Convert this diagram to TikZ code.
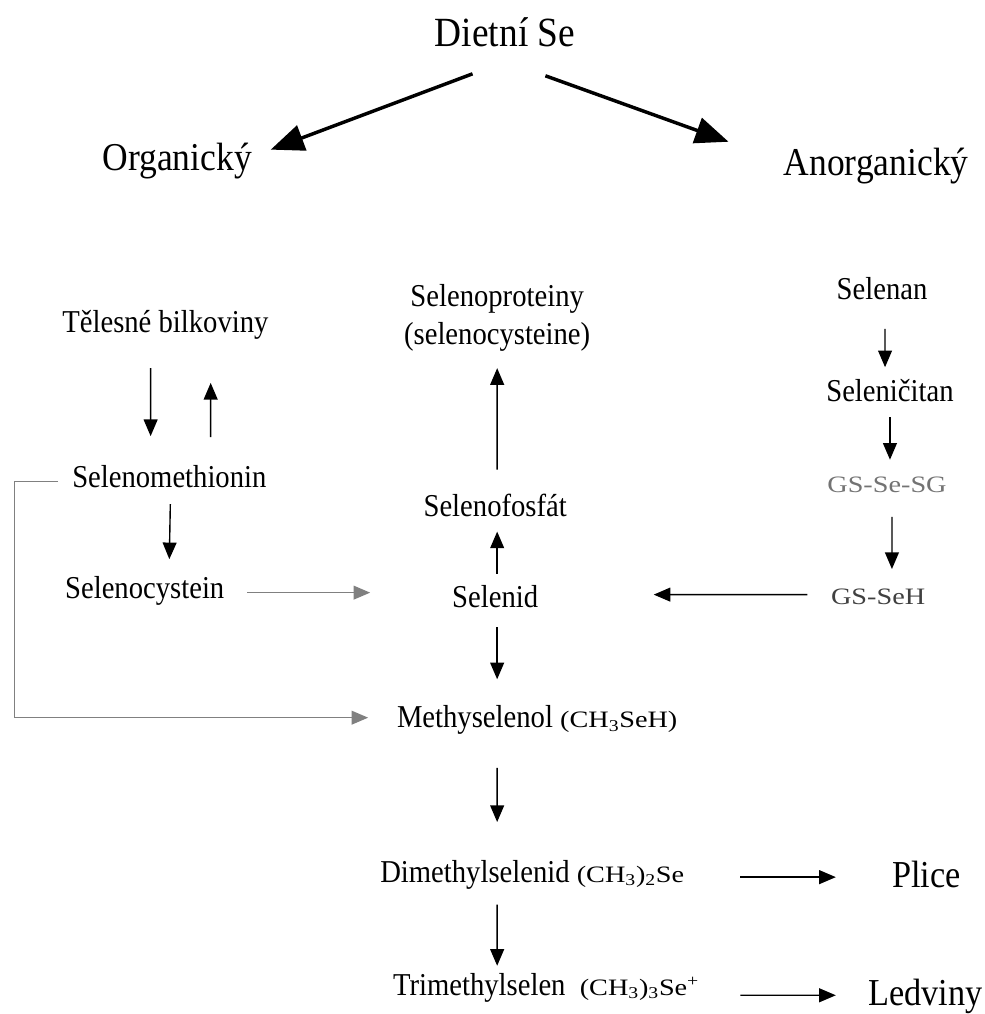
\documentclass[tikz,border=0pt]{standalone}
\usepackage{fontspec}
\setmainfont[FakeStretch=0.9]{Liberation Serif}
\newfontfamily\vzorecfont[FakeStretch=1.2]{Liberation Serif}
\usetikzlibrary{arrows.meta,calc}

\begin{document}
\begin{tikzpicture}[x=25cm, y=25cm,
		txt/.style={inner sep=0pt, anchor=base, font=\fontsize{23}{27}\selectfont},
		bigtxt/.style={txt, font=\fontsize{28.5}{33}\selectfont},
		endtxt/.style={txt, font=\fontsize{27.5}{32}\selectfont},
		gstxt/.style={txt, font=\vzorecfont\fontsize{17}{20}\selectfont},
		arr/.style={-{Triangle[length=12pt, width=10pt]}, line width=1pt},
		grayarr/.style={arr, color=black!50},
		bigarr/.style={-{Triangle[length=24pt, width=19pt]}, line width=2.5pt}]
		\useasboundingbox ( 0, 0 ) rectangle ( 1, 1.030 );
		\newcommand{\vzorec}[1]{{\vzorecfont\fontsize{17}{20}\selectfont #1}}

		% zdroj
		\node [bigtxt, font=\fontsize{30}{35}\selectfont] (diet) at ( 0.513, 0.983 ) {Dietní Se};
		\node [bigtxt] (org) at ( 0.180, 0.857 ) {Organický};
		\node [bigtxt] (anorg) at ( 0.890, 0.852 ) {Anorganický};
		\draw [bigarr] ($(diet.base)+( -0.033, -0.028 )$) -- ($(org.base)+( 0.095, 0.021 )$);
		\draw [bigarr] ($(diet.base)+( 0.041, -0.030 )$) -- ($(anorg.base)+( -0.150, 0.034 )$);

		% organická větev
		\node [txt] (telbil) at ( 0.168, 0.692 ) {Tělesné bilkoviny};
		\node [txt] (smet) at ( 0.172, 0.535 ) {Selenomethionin};
		\node [txt] (scys) at ( 0.147, 0.422 ) {Selenocystein};
		\draw [arr] ($(telbil.base)+( -0.015, -0.036 )$) -- ($(smet.base)+( -0.019, 0.052 )$);
		\draw [arr] ($(smet.base)+( 0.042, 0.051 )$) -- ($(telbil.base)+( 0.046, -0.051 )$);
		\draw [arr] ($(smet.base)+( 0.001, -0.017 )$) -- ($(scys.base)+( 0.025, 0.040 )$);

		% střední sloupec
		\node [txt, anchor=center, align=center] (sprot) at ( 0.505, 0.707 ) {Selenoproteiny\\(selenocysteine)};
		\node [txt] (sfos) at ( 0.503, 0.505 ) {Selenofosfát};
		\node [txt] (selenid) at ( 0.503, 0.413 ) {Selenid};
		\node [txt, anchor=base west] (mesel) at ( 0.403, 0.291 ) {Methyselenol \vzorec{(CH\textsubscript{3}SeH)}};
		\node [txt, anchor=base west] (dimesel) at ( 0.386, 0.134 ) {Dimethylselenid \vzorec{(CH\textsubscript{3})\textsubscript{2}Se}};
		\node [txt, anchor=base west] (trimesel) at ( 0.399, 0.019 ) {Trimethylselen \ \vzorec{(CH\textsubscript{3})\textsubscript{3}Se\textsuperscript{+}}};
		\draw [arr] ($(sfos.base)+( 0.002, 0.048 )$) -- ($(sprot)+( 0.000, -0.051 )$);
		\draw [arr] ($(selenid.base)+( 0.002, 0.034 )$) -- ($(sfos.base)+( 0.002, -0.015 )$);
		\draw [arr] ($(selenid.base)+( 0.002, -0.020 )$) -- ($(mesel.base west)+( 0.102, 0.049 )$);
		\draw [arr] ($(mesel.base west)+( 0.102, -0.041 )$) -- ($(dimesel.base west)+( 0.119, 0.061 )$);
		\draw [arr] ($(dimesel.base west)+( 0.119, -0.023 )$) -- ($(trimesel.base west)+( 0.106, 0.030 )$);

		% přívody do středu
		\draw [grayarr] ($(scys.base)+( 0.104, 0.006 )$) -- ($(selenid.base)+( -0.127, 0.015 )$);
		\draw [grayarr] ($(smet.base)+( -0.113, 0.006 )$) -- ++( -0.044, 0 ) |- ($(mesel.base west)+( -0.029, 0.010 )$);

		% anorganická větev
		\node [txt] (selenan) at ( 0.896, 0.726 ) {Selenan};
		\node [txt] (selcit) at ( 0.904, 0.622 ) {Seleničitan};
		\node [gstxt, text=black!55] (gssg) at ( 0.901, 0.530 ) {GS-Se-SG};
		\node [gstxt, text=black!75] (gsseh) at ( 0.892, 0.416 ) {GS-SeH};
		\draw [arr] ($(selenan.base)+( 0.003, -0.030 )$) -- ($(selcit.base)+( -0.005, 0.035 )$);
		\draw [arr] ($(selcit.base)+( 0.000, -0.016 )$) -- ($(gssg.base)+( 0.003, 0.033 )$);
		\draw [arr] ($(gssg.base)+( 0.005, -0.025 )$) -- ($(gsseh.base)+( 0.014, 0.036 )$);
		\draw [arr] ($(gsseh.base)+( -0.072, 0.010 )$) -- ($(selenid.base)+( 0.161, 0.013 )$);

		% vylučování
		\node [endtxt] (plice) at ( 0.941, 0.128 ) {Plice};
		\node [endtxt] (ledviny) at ( 0.940, 0.009 ) {Ledviny};
		\draw [arr] ($(dimesel.base west)+( 0.366, 0.005 )$) -- ($(plice.base)+( -0.092, 0.011 )$);
		\draw [arr] ($(trimesel.base west)+( 0.353, 0.000 )$) -- ($(ledviny.base)+( -0.091, 0.010 )$);
	\end{tikzpicture}
\end{document}
